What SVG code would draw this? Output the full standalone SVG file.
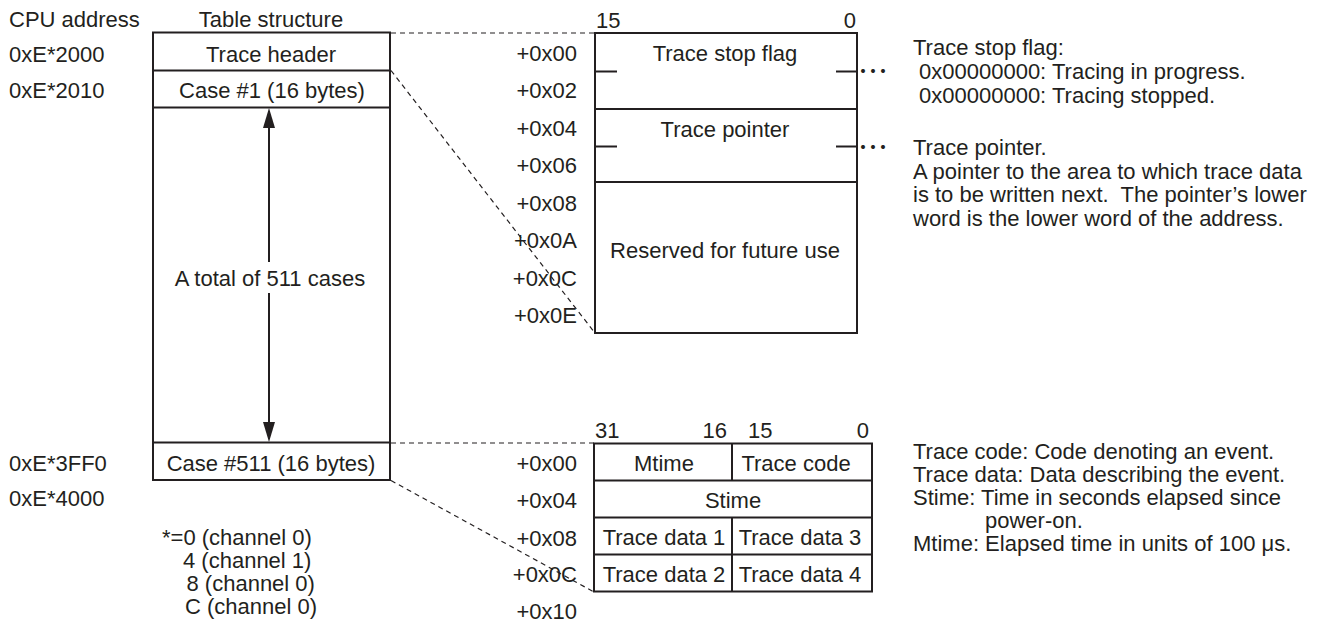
<svg xmlns="http://www.w3.org/2000/svg" width="1329" height="630" viewBox="0 0 1329 630">
<style>
.t{font-family:"Liberation Sans",Arial,sans-serif;font-size:22px;fill:#231f20}
.m{text-anchor:middle}
.e{text-anchor:end}
.box{fill:#fff;stroke:#231f20;stroke-width:2}
.ln{stroke:#231f20;stroke-width:2;fill:none}
.dash{stroke:#231f20;stroke-width:1.2;stroke-dasharray:5 4;fill:none}
.dots{font-family:"Noto Sans CJK JP",sans-serif;font-size:30px;fill:#231f20}
</style>
<defs>
<marker id="ah" viewBox="0 0 20 12" refX="17" refY="6" markerWidth="20" markerHeight="12" markerUnits="userSpaceOnUse" orient="auto">
<path d="M0,0 L20,6 L0,12 z" fill="#231f20"/>
</marker>
</defs>
<rect width="1329" height="630" fill="#fff"/>

<g id="headings">
<text class="t" x="9" y="27">CPU address</text>
<text class="t m" x="271" y="27">Table structure</text>
</g>

<g id="cpu-addresses">
<text class="t" x="9" y="61.5">0xE*2000</text>
<text class="t" x="9" y="98">0xE*2010</text>
<text class="t" x="9" y="470.5">0xE*3FF0</text>
<text class="t" x="9" y="506">0xE*4000</text>
</g>

<g id="table-structure">
<rect class="box" x="153" y="32.5" width="237" height="447.5"/>
<line class="ln" x1="153" y1="70.5" x2="390" y2="70.5"/>
<line class="ln" x1="153" y1="107.5" x2="390" y2="107.5"/>
<line class="ln" x1="153" y1="442.5" x2="390" y2="442.5"/>
<text class="t m" x="271" y="61.5">Trace header</text>
<text class="t m" x="272" y="98">Case #1 (16 bytes)</text>
<text class="t m" x="270" y="286">A total of 511 cases</text>
<text class="t m" x="271" y="470.5">Case #511 (16 bytes)</text>
</g>

<g id="channel-note">
<text class="t" x="162" y="545">*=0 (channel 0)</text>
<text class="t" x="183" y="568">4 (channel 1)</text>
<text class="t" x="186.5" y="591">8 (channel 0)</text>
<text class="t" x="185" y="614">C (channel 0)</text>
</g>

<g id="header-detail">
<text class="t" x="596" y="28">15</text>
<text class="t e" x="856" y="28">0</text>
<rect class="box" x="595" y="33" width="262" height="300"/>
<line class="ln" x1="595" y1="109" x2="857" y2="109"/>
<line class="ln" x1="595" y1="182" x2="857" y2="182"/>
<line class="ln" x1="595" y1="71.5" x2="617" y2="71.5"/>
<line class="ln" x1="836" y1="71.5" x2="857" y2="71.5"/>
<line class="ln" x1="595" y1="146.5" x2="617" y2="146.5"/>
<line class="ln" x1="836" y1="146.5" x2="857" y2="146.5"/>
<text class="t m" x="725" y="61">Trace stop flag</text>
<text class="t m" x="725" y="137">Trace pointer</text>
<text class="t m" x="725" y="258">Reserved for future use</text>
<text class="t e" x="577" y="61">+0x00</text>
<text class="t e" x="577" y="98">+0x02</text>
<text class="t e" x="577" y="136">+0x04</text>
<text class="t e" x="577" y="173">+0x06</text>
<text class="t e" x="577" y="211">+0x08</text>
<text class="t e" x="577" y="248">+0x0A</text>
<text class="t e" x="577" y="285.5">+0x0C</text>
<text class="t e" x="577" y="322.5">+0x0E</text>
</g>

<g id="header-notes">
<text class="dots" x="858" y="82">…</text>
<text class="dots" x="858" y="158">…</text>
<text class="t" x="913" y="55">Trace stop flag:</text>
<text class="t" x="919" y="79">0x00000000: Tracing in progress.</text>
<text class="t" x="919" y="102.5">0x00000000: Tracing stopped.</text>
<text class="t" x="913" y="155">Trace pointer.</text>
<text class="t" x="913" y="178.5">A pointer to the area to which trace data</text>
<text class="t" x="913" y="202">is to be written next.&#160; The pointer’s lower</text>
<text class="t" x="913" y="225.5">word is the lower word of the address.</text>
</g>

<g id="case-detail">
<text class="t" x="595" y="438">31</text>
<text class="t e" x="727" y="438">16</text>
<text class="t" x="748" y="438">15</text>
<text class="t e" x="869" y="438">0</text>
<rect class="box" x="594" y="443.5" width="278" height="148"/>
<line class="ln" x1="594" y1="480.5" x2="872" y2="480.5"/>
<line class="ln" x1="594" y1="517.5" x2="872" y2="517.5"/>
<line class="ln" x1="594" y1="554.5" x2="872" y2="554.5"/>
<line class="ln" x1="732" y1="443.5" x2="732" y2="480.5"/>
<line class="ln" x1="732" y1="517.5" x2="732" y2="591.5"/>
<text class="t m" x="664" y="471">Mtime</text>
<text class="t m" x="796" y="471">Trace code</text>
<text class="t m" x="733" y="508">Stime</text>
<text class="t m" x="664" y="545">Trace data 1</text>
<text class="t m" x="800" y="545">Trace data 3</text>
<text class="t m" x="664" y="582">Trace data 2</text>
<text class="t m" x="800" y="582">Trace data 4</text>
<text class="t e" x="577" y="471">+0x00</text>
<text class="t e" x="577" y="508">+0x04</text>
<text class="t e" x="577" y="545.5">+0x08</text>
<text class="t e" x="577" y="582">+0x0C</text>
<text class="t e" x="577" y="619">+0x10</text>
</g>

<g id="case-notes">
<text class="t" x="913" y="459">Trace code: Code denoting an event.</text>
<text class="t" x="913" y="482">Trace data: Data describing the event.</text>
<text class="t" x="913" y="505">Stime: Time in seconds elapsed since</text>
<text class="t" x="985" y="528">power-on.</text>
<text class="t" x="913" y="551">Mtime: Elapsed time in units of 100 μs.</text>
</g>

<g id="connectors">
<line class="ln" x1="269" y1="262" x2="269" y2="111" marker-end="url(#ah)"/>
<line class="ln" x1="269" y1="293" x2="269" y2="439" marker-end="url(#ah)"/>
<line class="dash" x1="391" y1="33" x2="595" y2="33"/>
<line class="dash" x1="391" y1="70.5" x2="595" y2="333"/>
<line class="dash" x1="391" y1="443" x2="594" y2="443"/>
<line class="dash" x1="391" y1="480.5" x2="594" y2="592"/>
</g>
</svg>
